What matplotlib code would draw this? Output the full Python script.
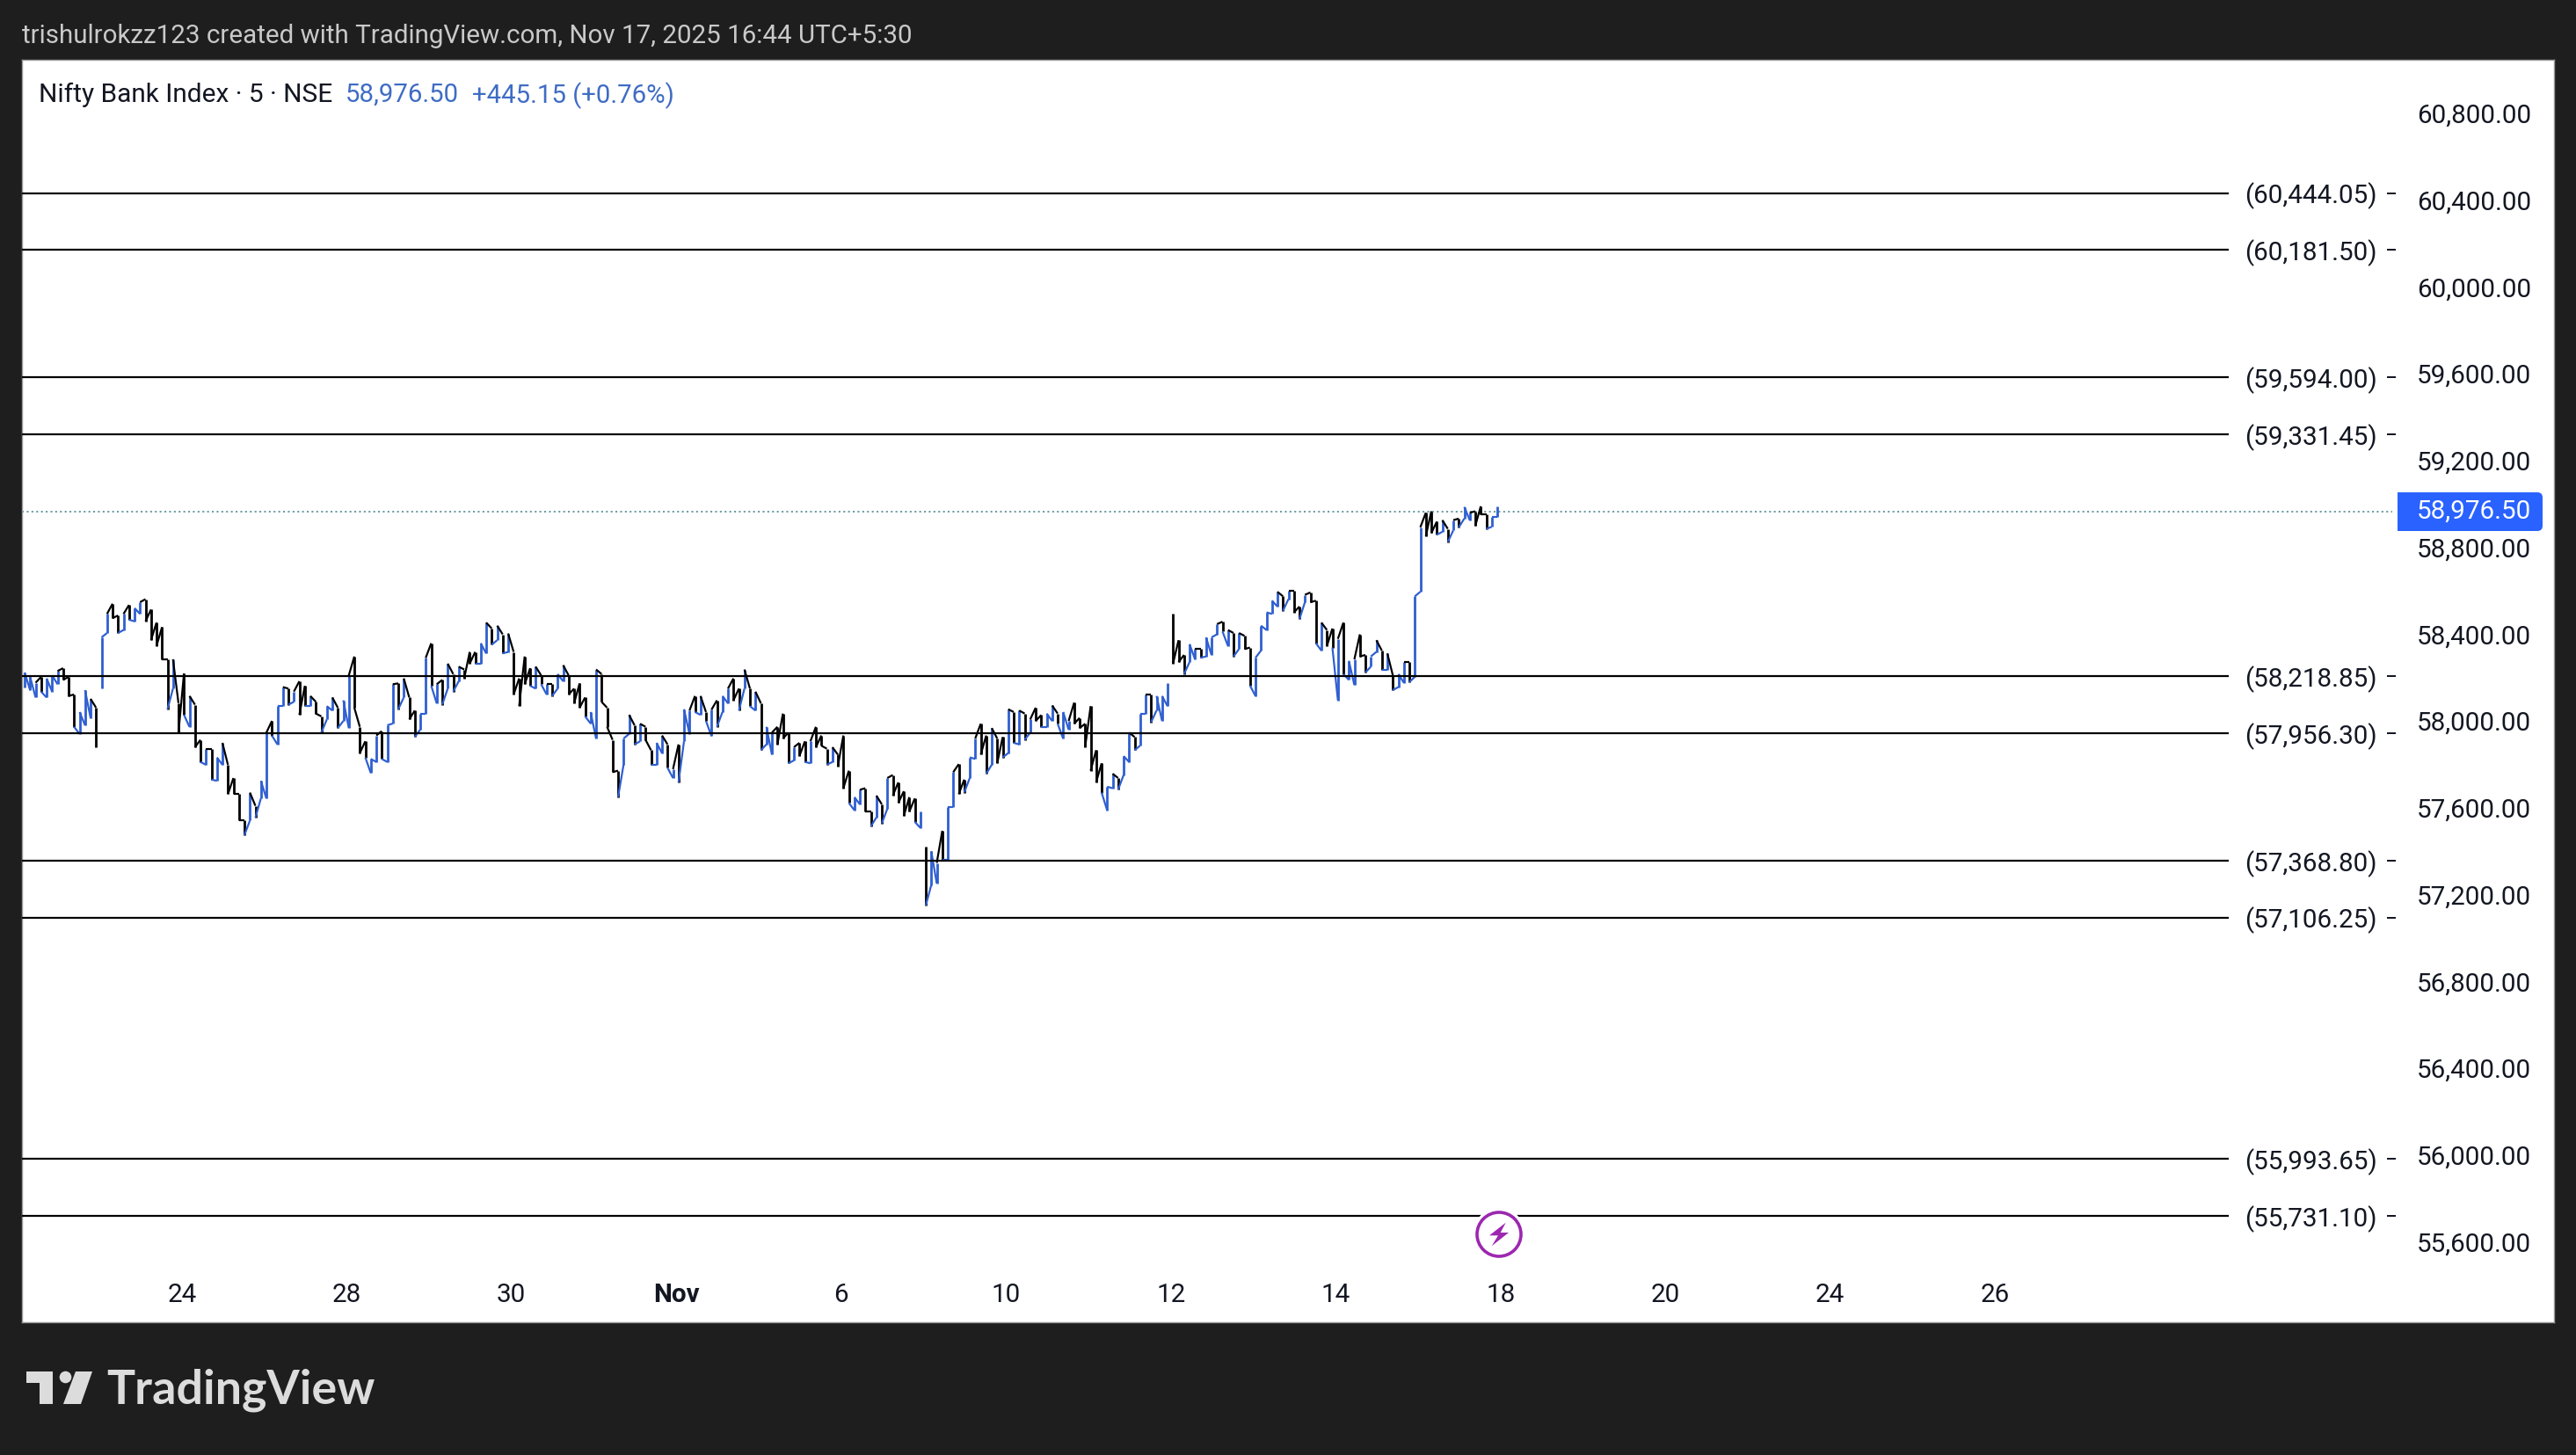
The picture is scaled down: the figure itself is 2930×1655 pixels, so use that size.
import numpy as np
import matplotlib
matplotlib.use("Agg")
import matplotlib.pyplot as plt
from matplotlib.collections import LineCollection
from matplotlib.patches import Circle, Polygon, Rectangle, FancyBboxPatch
from matplotlib.transforms import Affine2D, blended_transform_factory

# ---------- data (5-bar aggregates) ----------
high_a = [58235,58215,58188,58215,58208,58222,58242,58255,58215,58134,58053,58154,58114,58073,58397,58505,58552,58498,58505,58546,
          58532,58559,58573,58525,58465,58444,58296,58296,58094,58231,58127,58087,57925,57884,57884,57844,57911,57810,57749,57675,
          57553,57682,57621,57736,57958,58012,58080,58168,58161,58147,58195,58174,58127,58100,58033]
low_a  = [58168,58154,58120,58147,58120,58147,58181,58201,58127,57985,57952,57992,58026,57891,58161,58417,58485,58417,58431,58478,
          58471,58505,58471,58384,58357,58296,58066,58161,57958,58040,57985,57891,57823,57810,57742,57736,57810,57675,57675,57553,
          57486,57553,57567,57655,57655,57945,57904,58080,58087,58100,58040,58080,58080,58046,57958]
dirs_a = "uuuduuuddd" "uuuduuddud" "uudddddudd" "udduduuddd" "duduuduudu" "ddudd"

high_b = [58080,58120,58073,58107,58222,58309,57985,57918,57837,57945,57965,57992,58181,58185,58208,58120,58060,58046,58303,58370,
          58181,58201,58276,58228,58262,58249,58330,58330,58370,58465,58438,58451,58411,58415,58330,58208,58309,58255,58262,58222,
          58181,58181,58228,58269,58222,58161,58185,58120,58053,58249,58228,58073,57925,57783]
low_b  = [58019,58060,57979,58012,57979,58073,57864,57844,57772,57823,57837,57823,58000,58066,58120,58019,57938,57972,58046,58174,
          58093,58087,58161,58147,58195,58208,58276,58276,58276,58323,58363,58384,58323,58330,58134,58080,58181,58174,58161,58181,
          58134,58127,58161,58195,58134,58093,58073,58033,58000,57931,58100,57985,57776,57661]
dirs_b = "uuduuddduu" "duududduud" "udududdduu" "dududdddud" "uduudddduu" "dddd"

high_c = [57931,58040,57992,57999,57985,57877,57911,57945,57904,57790,57904,58066,58060,58127,58127,58053,58064,58107,58127,58161,
          58208,58161,58249,58161,58147,58093,57985,57958,57985,58046,57958,57891,57911,57918,57918,57985,57945,57884,57891,57857,
          57945,57783,57661,57695,57702,57594,57668,57628,57749,57763,57729,57688,57661,57655]
low_c  = [57810,57952,57904,57918,57925,57810,57810,57864,57796,57749,57729,57918,57952,58053,58040,58012,57942,57985,58053,58093,
          58107,58060,58161,58080,58060,57877,57904,57857,57904,57931,57817,57830,57850,57823,57817,57891,57898,57810,57823,57803,
          57702,57634,57601,57628,57594,57526,57567,57540,57607,57668,57634,57574,57594,57547]
dirs_c = "uududduudu" "duudududuu" "ddududuudd" "duddudddud" "dduuddudud" "dddd"

high_d = [57594,57432,57412,57358,57506,57614,57776,57813,57742,57844,57931,57999,57945,57979,57931,57938,58066,58053,58060,58046,
          58019,58073,58039,58046,58083,58046,58053,58012,58096,58026,57999,58080,57877,57817,57709,57769,57749,57850,57958,57938,
          58046,58134,58134,58127,58127,58187]
low_d  = [57520,57162,57256,57263,57371,57371,57614,57675,57682,57749,57837,57857,57769,57810,57817,57844,57864,57911,57904,57925,
          57958,58012,57985,57985,58012,57999,57931,57972,57999,57979,57891,57783,57729,57682,57601,57702,57695,57763,57823,57877,
          57898,58046,58006,58060,58012,58080]
dirs_d = "uduuduuddu" "udduddudud" "udduuduudd" "dddduuduud" "uuduuu"

high_f = [58505,58384,58316,58366,58343,58343,58397,58397]
low_f  = [58276,58283,58228,58283,58296,58303,58309,58316]
dirs_f = "ddduuduu"

high_e = [58458,58469,58431,58417,58417,58404,58350,58303,58451,58512,58566,58607,58586,58613,58613,58539,58593,58604,58566,58465,
          58431,58438,58390,58465,58289,58296,58411,58316,58309,58384,58336,58323,58222,58228,58283,58283,58586,58904,58971,58978,
          58930,58937,58897,58937,58944,58998,58971,58978,59001,58964,58951,59001]
low_e  = [58411,58424,58357,58309,58343,58343,58175,58127,58336,58431,58505,58539,58519,58573,58512,58481,58559,58559,58370,58336,
          58357,58350,58107,58228,58201,58177,58309,58235,58262,58330,58249,58249,58154,58168,58188,58191,58215,58607,58863,58877,
          58870,58883,58836,58890,58904,58944,58937,58910,58964,58897,58906,58951]
dirs_e = "udududduuu" "uududduddu" "dduduudduu" "duduuduudd" "dududuuddd" "uu"

session_gaps = [14, 164, 209]        # aggregates that open away from the previous close

levels = [60444.05, 60181.50, 59594.00, 59331.45, 58218.85, 57956.30, 57368.80, 57106.25, 55993.65, 55731.10]
last_price = 58976.50
price_ticks = list(range(55600, 61000, 400))
time_tick_bars = [143, 293, 443, 593, 743, 893, 1043, 1193, 1343, 1493, 1643, 1793]
time_tick_labels = ["24", "28", "30", "Nov", "6", "10", "12", "14", "18", "20", "24", "26"]
bars_per_point = 5

# ---------- styles ----------
W, H = 2930, 1655
BG = "#1e1e1e"
BLUE = "#2f5fd0"
INK = "#131722"
PX = 0.72  # points per pixel at dpi 100
FS = 29.6 * PX
plt.rcParams["font.family"] = ["Roboto", "DejaVu Sans"]

fig = plt.figure(figsize=(W / 100, H / 100), dpi=100, facecolor=BG)
L, R, T, B = 25, 2905, 68, 1504
ax = fig.add_axes([L / W, 1 - B / H, (R - L) / W, (B - T) / H], facecolor="white")
ax.set_xlim(-2.4, -2.4 + (R - L) / 1.25)
ax.set_ylim(61057.7 - 4.05 * (B - T), 61057.7)
for s in ax.spines.values():
    s.set_color("#9a9a9a")
    s.set_linewidth(1.0)

px = Affine2D().scale(1, -1).translate(0, H)      # figure pixels, y down
ymix = blended_transform_factory(ax.transAxes, ax.transData)
fx = lambda p: (p - L) / (R - L)

# ---------- price bars ----------
highs = np.array(high_a + high_b + high_c + high_d + high_f + high_e, float)
lows = np.array(low_a + low_b + low_c + low_d + low_f + low_e, float)
dirs = list(dirs_a + dirs_b + dirs_c + dirs_d + dirs_f + dirs_e)
x = np.arange(len(highs)) * bars_per_point
up = np.array([d == "u" for d in dirs])
opens = np.where(up, lows, highs)
closes = np.where(up, highs, lows)

seg, col = [], []
for i in range(len(x)):
    seg.append([(x[i], lows[i]), (x[i], highs[i])])
    col.append(BLUE if up[i] else "black")
ax.add_collection(LineCollection(seg, colors=col, linewidths=2.8 * PX, zorder=3))
seg, col = [], []
for i in range(len(x) - 1):
    if i + 1 in session_gaps:
        continue
    seg.append([(x[i], closes[i]), (x[i + 1], opens[i + 1])])
    col.append(BLUE if up[i + 1] else "black")
ax.add_collection(LineCollection(seg, colors=col, linewidths=2.2 * PX, zorder=3))

# ---------- levels ----------
for lv in levels:
    ax.plot([0, fx(2535)], [lv, lv], transform=ymix, color="black", lw=2.2 * PX, zorder=4, solid_capstyle="butt")
    ax.plot([fx(2715), fx(2725)], [lv, lv], transform=ymix, color=INK, lw=2.0 * PX, zorder=4, solid_capstyle="butt")
    ax.text(fx(2704), lv, f"({lv:,.2f})", transform=ymix, ha="right", va="center_baseline",
            fontsize=FS, color=INK, zorder=5)

# ---------- last price ----------
ax.plot([0, fx(2721)], [last_price, last_price], transform=ymix, color="#3f7f86",
        lw=1.5 * PX, ls=(0, (1.4, 2.2)), zorder=2)

# ---------- axes ticks ----------
ax.yaxis.tick_right()
ax.set_yticks(price_ticks)
ax.set_yticklabels([f"{p:,.2f}" for p in price_ticks])
ax.tick_params(axis="y", length=0, pad=-(R - 2879) * PX, labelsize=FS, labelcolor=INK)
for t in ax.get_yticklabels():
    t.set_ha("right")
    t.set_va("center")
ax.set_xticks(time_tick_bars)
ax.set_xticklabels(time_tick_labels)
ax.tick_params(axis="x", length=0, pad=-(B - 1473) * PX, labelsize=FS, labelcolor=INK)
for t in ax.get_xticklabels():
    t.set_va("center")
    if t.get_text() == "Nov":
        t.set_fontweight("bold")

# ---------- last price tag ----------
ax.add_patch(FancyBboxPatch((2731, 564), 157, 36, boxstyle="round,pad=4,rounding_size=6",
                            transform=px, fc="#2962ff", ec="none", zorder=6, clip_on=False))
ax.add_patch(Rectangle((2727, 560), 12, 44, transform=px, fc="#2962ff", ec="none", zorder=6, clip_on=False))
ax.text(fx(2879), last_price, f"{last_price:,.2f}", transform=ymix, ha="right", va="center",
        fontsize=FS, color="white", zorder=7)

# ---------- legend line ----------
LEG = 29.4 * PX
ax.text(44, 105, "Nifty Bank Index · 5 · NSE", transform=px, ha="left", va="center_baseline", fontsize=29.9 * PX, color=INK, zorder=7)
ax.text(393, 105, "58,976.50", transform=px, ha="left", va="center_baseline", fontsize=LEG, color="#3f6cc4", zorder=7)
ax.text(537, 105, "+445.15 (+0.76%)", transform=px, ha="left", va="center_baseline", fontsize=LEG, color="#3f6cc4", zorder=7)

# ---------- bolt icon ----------
ax.add_patch(Circle((1705, 1404), 30, transform=px, fc="white", ec="none", zorder=5))
ax.add_patch(Circle((1705, 1404), 25, transform=px, fc="white", ec="#9c27b0", lw=3.6 * PX, zorder=6))
ax.add_patch(Polygon([(1712.7, 1390.7), (1694, 1405.3), (1704, 1405.3), (1696.7, 1417.3), (1716, 1402), (1706.7, 1402)],
                     closed=True, transform=px, fc="#9c27b0", ec="none", zorder=7))

# ---------- header and logo ----------
fig.text(25, 38, "trishulrokzz123 created with TradingView.com, Nov 17, 2025 16:44 UTC+5:30", transform=px,
         ha="left", va="center_baseline", fontsize=29.5 * PX, color="#c9c9c9")
LOGO = "#dcdcdc"
fig.add_artist(Polygon([(30, 1560), (60, 1560), (60, 1597), (45, 1597), (45, 1573), (30, 1573)], closed=True,
                       transform=px, fc=LOGO, ec="none"))
fig.add_artist(Circle((74.5, 1566.5), 6.8, transform=px, fc=LOGO, ec="none"))
fig.add_artist(Polygon([(86, 1560), (105, 1560), (92, 1597), (72, 1597)], closed=True, transform=px, fc=LOGO, ec="none"))
fig.text(121, 1597, "TradingView", transform=px, ha="left", va="baseline", fontsize=53.8 * PX,
         color=LOGO, fontweight="bold", family=["Lato", "DejaVu Sans"])

fig.savefig("out.png", dpi=100, facecolor=BG)
